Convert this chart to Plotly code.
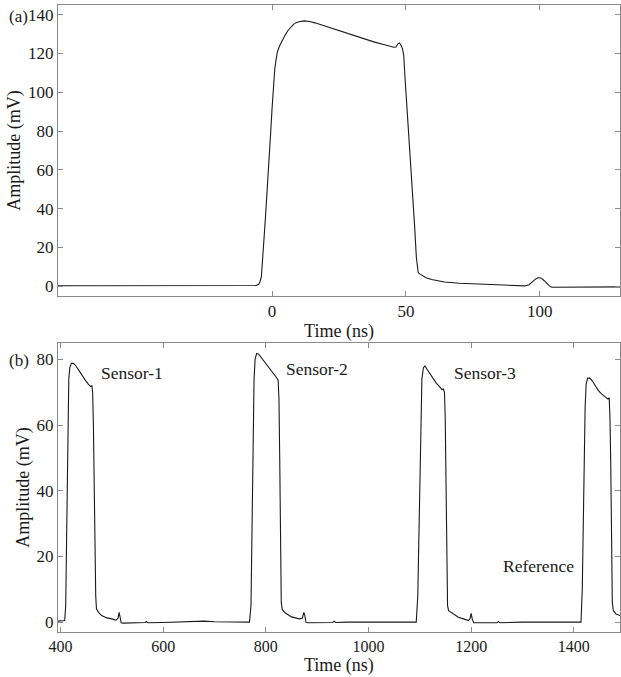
import plotly.graph_objects as go

# ---- Panel (a): single reflected pulse ----
time_a = [-80, -20, -9, -6, -5, -4.5, -4, -3.5, -3, -2.5, -2, -1.5, -1, -0.5, 0, 0.5, 1, 1.5,
          2, 3, 4, 5, 6, 7, 8, 9, 10, 12, 14, 16, 18, 20, 23, 26, 30, 34, 38, 42, 44, 45.5,
          46.3, 47, 47.6, 48.2, 48.7, 49.2, 49.6, 50.2, 50.8, 51.5, 52.2, 52.7, 53.3, 53.9,
          54.6, 55.2, 56.4, 57.5, 59.6, 62, 64.4, 70, 79.4, 88, 94.4, 96, 97.5, 98.5, 99.6,
          100.6, 101.6, 102.6, 103.6, 104.5, 110, 120, 130]
amp_a = [0.3, 0.3, 0.3, 0.4, 1.0, 2.5, 5, 13, 25, 35, 45, 56, 68, 80, 92, 104, 112, 117,
         121, 124.5, 127.5, 129.8, 132, 133.8, 135, 135.9, 136.4, 136.8, 136.5, 135.8, 134.9,
         134, 132.7, 131.3, 129.3, 127.6, 126, 124.5, 123.7, 123.2, 123.3, 125, 125.4, 124.3,
         122.5, 119, 109, 97, 85, 70, 56, 45, 30, 15, 7, 6.4, 5.2, 4.4, 3.5, 2.8, 2.2, 1.6,
         1.0, 0.5, 0.2, 0.8, 2.6, 3.8, 4.5, 4.2, 3.0, 1.4, 0.2, -0.5, -0.5, -0.4, -0.3]

# ---- Panel (b): pulse train from the sensor array ----
time_b = [395, 405, 408, 410, 412, 414, 416, 418, 421, 425, 430, 436, 442, 448, 454, 458, 461,
          462.5, 464, 465.5, 467, 468.5, 470, 474, 480, 490, 500, 508, 512, 514, 516, 518, 522,
          540, 560, 565, 567, 570, 600, 650, 680, 700, 740, 768,
          771, 773, 775, 777, 779, 782, 786, 790, 796, 802, 808, 814, 819, 822, 824, 825.5, 827,
          828.5, 830, 832, 838, 850, 865, 871, 874, 876, 878, 882, 900, 930, 933, 936, 960,
          1000, 1050, 1093,
          1096, 1098, 1100, 1102, 1104, 1107, 1110, 1115, 1120, 1126, 1132, 1138, 1143, 1146,
          1148, 1149.5, 1151, 1152.5, 1154, 1156, 1165, 1175, 1185, 1195, 1198, 1200, 1202,
          1205, 1230, 1250, 1253, 1256, 1300, 1350, 1414,
          1416.5, 1418, 1420, 1422, 1424, 1427, 1431, 1436, 1442, 1448, 1454, 1460, 1466, 1469,
          1470.5, 1472, 1473.5, 1475, 1477, 1482, 1490]
amp_b = [0.3, 0.3, 0.5, 5, 30, 58, 74, 77.5, 78.8, 78.8, 78, 76.6, 75, 73.7, 72.5, 71.8, 72,
         70, 60, 42, 22, 8, 4, 3, 2, 1.3, 1, 0.6, 1.2, 3, 1.5, -0.2, -0.3,
         -0.2, -0.2, -0.1, 0.2, -0.2, -0.1, 0.2, 0.3, 0.1, 0, 0,
         5, 30, 55, 74, 80, 81.8, 81.6, 80.8, 79.6, 78.3, 77, 75.8, 74.7, 74.2, 73.6, 68, 50,
         25, 6, 3.8, 2.8, 1.6, 1, 1.2, 3, 2, 0, -0.2, -0.2, -0.1, 0.3, -0.1, 0,
         0, 0.1, 0,
         8, 25, 45, 62, 74, 77.5, 78, 76.8, 75.5, 74, 72.8, 71.8, 70.8, 71,
         70, 62, 40, 20, 5, 3.5, 2.5, 1.5, 1, 0.5, 1.2, 2.7, 1,
         -0.2, -0.2, -0.2, 0.2, -0.2, 0, 0, 0,
         10, 30, 50, 65, 72.5, 74.3, 74.3, 73.5, 72, 70.5, 69.5, 68.7, 68, 68.2,
         62, 48, 25, 6, 3.5, 2.5, 2]

labels_b = ["Sensor-1", "Sensor-2", "Sensor-3", "Reference"]
label_x_b = [539, 900, 1226, 1331]
label_y_b = [76, 77, 76, 17]

FONT = "Liberation Serif"
INK = "#1a1a1a"
FRAME = "#8a8a8a"

fig = go.Figure()
fig.add_trace(go.Scatter(x=time_a, y=amp_a, mode="lines",
                         line=dict(color=INK, width=1.1), xaxis="x", yaxis="y",
                         showlegend=False))
fig.add_trace(go.Scatter(x=time_b, y=amp_b, mode="lines",
                         line=dict(color=INK, width=1.1), xaxis="x2", yaxis="y2",
                         showlegend=False))

W, H = 621, 677
xdom = [58 / W, 620 / W]
ydom_a = [1 - 296 / H, 1 - 5 / H]
ydom_b = [1 - 632 / H, 1 - 343 / H]

axis_common = dict(showline=True, linecolor=FRAME, linewidth=1, mirror="ticks",
                   ticks="inside", ticklen=5, tickcolor=FRAME, showgrid=False,
                   zeroline=False, automargin=False,
                   tickfont=dict(family=FONT, size=17, color=INK))

title_font = dict(family=FONT, size=18, color=INK)

annotations = []
for txt, xv, yv in zip(labels_b, label_x_b, label_y_b):
    annotations.append(dict(text=txt, x=xv, y=yv, xref="x2", yref="y2",
                            showarrow=False, font=dict(family=FONT, size=17.5, color=INK)))
annotations.append(dict(text="(a)", x=7 / W, y=1 - 17 / H, xref="paper", yref="paper",
                        xanchor="left", yanchor="middle", showarrow=False,
                        font=dict(family=FONT, size=17, color=INK)))
annotations.append(dict(text="(b)", x=7 / W, y=1 - 360 / H, xref="paper", yref="paper",
                        xanchor="left", yanchor="middle", showarrow=False,
                        font=dict(family=FONT, size=17, color=INK)))
# x-axis title of the lower panel, set close to the bottom edge of the page
annotations.append(dict(text="Time (ns)", x=(xdom[0] + xdom[1]) / 2, y=0,
                        xref="paper", yref="paper", xanchor="center", yanchor="bottom",
                        borderpad=0, showarrow=False, font=title_font))

fig.update_layout(
    width=W, height=H,
    margin=dict(l=0, r=0, t=0, b=0),
    paper_bgcolor="white", plot_bgcolor="white",
    xaxis=dict(domain=xdom, anchor="y", range=[-80, 130], tickvals=[0, 50, 100],
               title=dict(text="Time (ns)", font=title_font, standoff=3), **axis_common),
    yaxis=dict(domain=ydom_a, anchor="x", range=[-5, 145], tickvals=[0, 20, 40, 60, 80, 100, 120, 140],
               title=dict(text="Amplitude (mV)", font=title_font, standoff=2), **axis_common),
    xaxis2=dict(domain=xdom, anchor="y2", range=[395, 1490], tickvals=[400, 600, 800, 1000, 1200, 1400],
                **{**axis_common, "tickfont": dict(family=FONT, size=16, color=INK)}),
    yaxis2=dict(domain=ydom_b, anchor="x2", range=[-3, 85], tickvals=[0, 20, 40, 60, 80],
                title=dict(text="Amplitude (mV)", font=title_font, standoff=2), **axis_common),
    annotations=annotations,
)

fig.write_html("out.html")
